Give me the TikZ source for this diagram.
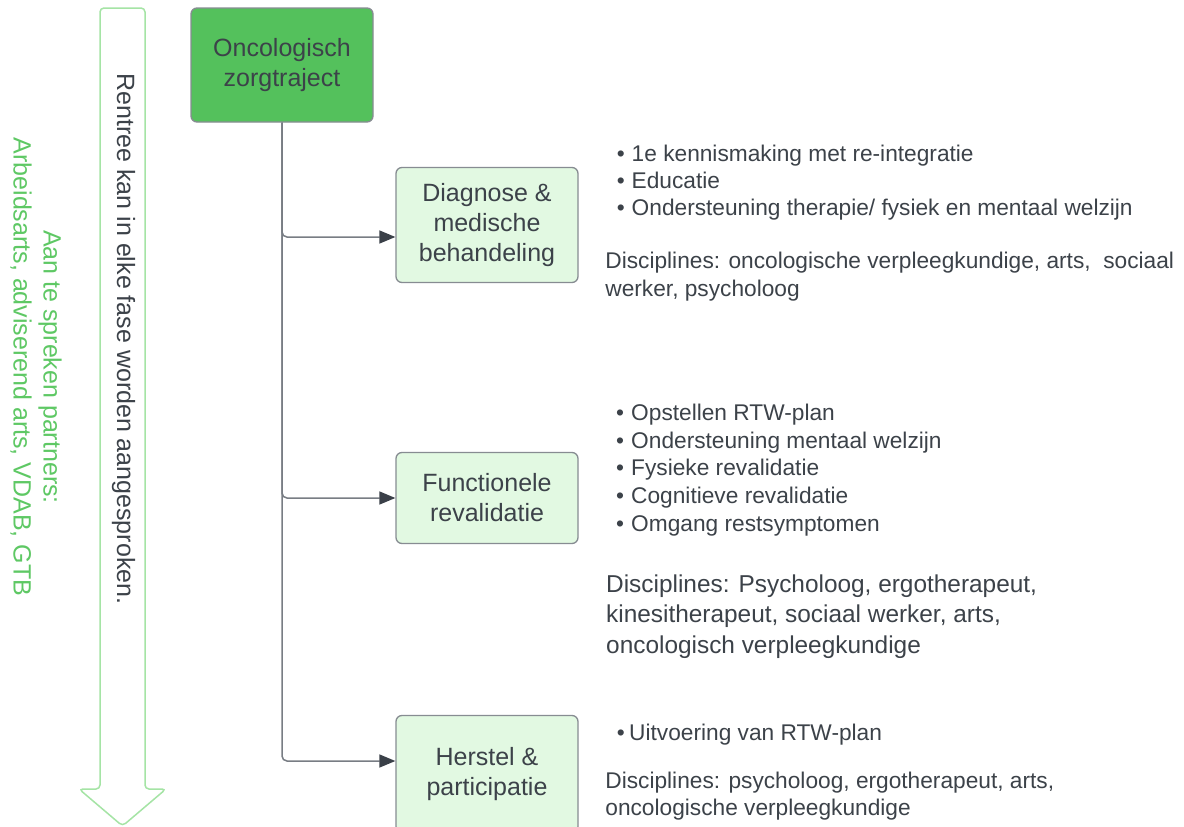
\documentclass[tikz,border=0pt]{standalone}
\usepackage{fontspec}
\setmainfont{Liberation Sans}
\usetikzlibrary{arrows.meta}
\definecolor{txt}{RGB}{60,66,73}
\definecolor{topfill}{RGB}{84,193,92}
\definecolor{boxfill}{RGB}{226,249,226}
\definecolor{boxdraw}{RGB}{135,140,146}
\definecolor{conncol}{RGB}{120,125,132}
\definecolor{tipcol}{RGB}{58,64,72}
\definecolor{grtxt}{RGB}{94,200,100}
\definecolor{arrowln}{RGB}{165,228,165}
\tikzset{
  topbox/.style={draw=boxdraw, fill=topfill, rounded corners=6pt, line width=1.3pt,
    minimum width=182pt, minimum height=114pt, align=center, inner sep=0pt,
    font=\fontsize{25}{30}\selectfont, text=txt},
  phasebox/.style={topbox, fill=boxfill},
  connector/.style={draw=conncol, line width=1.5pt, rounded corners=5pt,
    -{Triangle[length=16pt,width=13pt,color=tipcol]}},
  bul/.style={anchor=base west, inner sep=0pt, text=txt, font=\fontsize{22.7}{27}\selectfont},
  disc/.style={bul},
  discbig/.style={bul, font=\fontsize{24.4}{30}\selectfont},
  rot/.style={rotate=-90, inner sep=0pt, text=txt, font=\fontsize{25}{30}\selectfont},
}
\begin{document}
\begin{tikzpicture}[x=1pt,y=-1pt]
\useasboundingbox (0,0) rectangle (1184,827);
\clip (0,0) rectangle (1184,827);
\fill[white] (0,0) rectangle (1184,827);

% hollow arrow
\draw[arrowln, line width=1.5pt, rounded corners=4pt]
  (100,8) -- (145,8) -- (145,789) -- (166,789) -- (122.5,826) -- (79,789) -- (100,789) -- cycle;

\node[rot, anchor=base] (rentree) at (117,339) {Rentree kan in elke fase worden aangesproken.};
\node[rot, text=grtxt, align=center] (partners) at (36,367)
  {Aan te spreken partners:\\Arbeidsarts, adviserend arts, VDAB, GTB};

% boxes
\node[topbox] (top) at (282,65) {Oncologisch\\zorgtraject};
\node[phasebox, minimum height=115pt] (b1) at (487,225) {Diagnose \&\\medische\\behandeling};
\node[phasebox, minimum height=91pt] (b2) at (487,498) {Functionele\\revalidatie};
\node[phasebox, minimum height=117pt] (b3) at (487,774) {Herstel \&\\participatie};

% connectors
\draw[connector] (top.south) |- ([yshift=-12pt]b1.west);
\draw[connector] (top.south) |- (b2.west);
\draw[connector] (top.south) |- ([yshift=13pt]b3.west);

% block 1
\node[bul] (l1a) at (616.7,161) {\textbullet\hspace{6.9pt}1e kennismaking met re-integratie};
\node[bul] (l1b) at (616.7,188.3) {\textbullet\hspace{6.9pt}Educatie};
\node[bul] (l1c) at (616.7,215.5) {\textbullet\hspace{6.9pt}Ondersteuning therapie/ fysiek en mentaal welzijn};
\node[disc] (d1a) at (605.2,268.3) {Disciplines: oncologische verpleegkundige, arts,\ \ sociaal};
\node[disc] (d1b) at (605.2,296.5) {werker, psycholoog};

% block 2
\node[bul] (l2a) at (616,420) {\textbullet\hspace{7.1pt}Opstellen RTW-plan};
\node[bul] (l2b) at (616,448) {\textbullet\hspace{7.1pt}Ondersteuning mentaal welzijn};
\node[bul] (l2c) at (616,475.5) {\textbullet\hspace{7.1pt}Fysieke revalidatie};
\node[bul] (l2d) at (616,503.3) {\textbullet\hspace{7.1pt}Cognitieve revalidatie};
\node[bul] (l2e) at (616,531) {\textbullet\hspace{7.1pt}Omgang restsymptomen};
\node[discbig] (d2a) at (606,592) {Disciplines: Psycholoog, ergotherapeut,};
\node[discbig] (d2b) at (606,622.5) {kinesitherapeut, sociaal werker, arts,};
\node[discbig] (d2c) at (606,653) {oncologisch verpleegkundige};

% block 3
\node[bul] (l3a) at (616.7,740) {\textbullet\hspace{4.4pt}Uitvoering van RTW-plan};
\node[disc] (d3a) at (605.2,788.3) {Disciplines: psycholoog, ergotherapeut, arts,};
\node[disc] (d3b) at (605.2,815) {oncologische verpleegkundige};
\end{tikzpicture}
\end{document}
